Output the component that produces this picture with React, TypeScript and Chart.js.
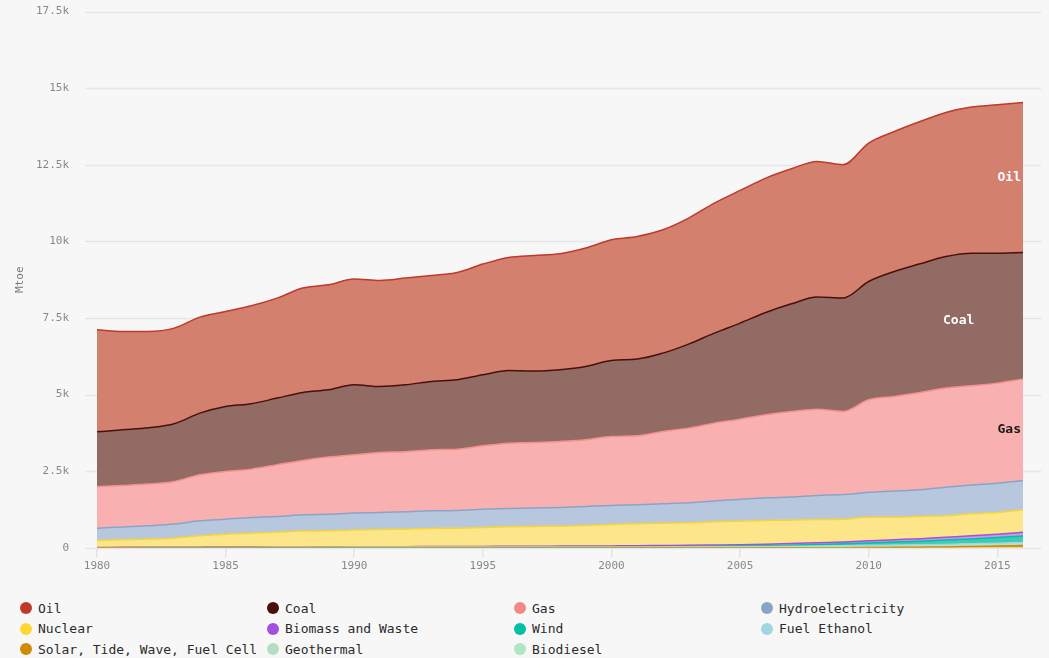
import React, { useEffect, useRef } from 'react';
import { Chart, registerables } from 'chart.js';

Chart.register(...registerables);

const years = [
  1980, 1981, 1982, 1983, 1984, 1985, 1986, 1987, 1988, 1989,
  1990, 1991, 1992, 1993, 1994, 1995, 1996, 1997, 1998, 1999,
  2000, 2001, 2002, 2003, 2004, 2005, 2006, 2007, 2008, 2009,
  2010, 2011, 2012, 2013, 2014, 2015, 2016,
];

const oil = [
  3329, 3209, 3143, 3123, 3135, 3101, 3199, 3264, 3407, 3427,
  3450, 3460, 3483, 3460, 3503, 3613, 3688, 3774, 3786, 3864,
  3939, 4004, 4026, 4114, 4244, 4329, 4386, 4407, 4427, 4351,
  4517, 4569, 4645, 4701, 4768, 4843, 4896,
];
const coal = [
  1784, 1816, 1839, 1882, 2012, 2121, 2133, 2177, 2220, 2197,
  2284, 2154, 2187, 2230, 2264, 2318, 2372, 2329, 2340, 2393,
  2481, 2502, 2558, 2742, 2938, 3135, 3340, 3515, 3657, 3701,
  3862, 4080, 4200, 4296, 4329, 4242, 4134,
];
const gas = [
  1360, 1360, 1360, 1392, 1502, 1556, 1577, 1687, 1773, 1861,
  1904, 1958, 1958, 1991, 2001, 2067, 2132, 2143, 2153, 2176,
  2251, 2252, 2360, 2436, 2539, 2619, 2711, 2789, 2816, 2709,
  3021, 3089, 3175, 3232, 3238, 3265, 3307,
];
const hydro = [
  402, 414, 435, 458, 489, 489, 511, 511, 533, 544,
  555, 555, 566, 577, 577, 598, 599, 599, 610, 620,
  620, 621, 631, 655, 681, 710, 738, 757, 785, 805,
  809, 849, 873, 936, 940, 957, 958,
];
const nuclear = [
  228, 247, 267, 296, 370, 422, 453, 483, 515, 523,
  542, 561, 571, 591, 598, 617, 636, 644, 652, 671,
  700, 717, 731, 734, 758, 768, 774, 764, 758, 744,
  773, 738, 725, 700, 720, 708, 734,
];
const biomass = [
  8, 9, 10, 11, 12, 13, 14, 15, 16, 18,
  20, 21, 22, 23, 25, 27, 28, 30, 32, 33,
  35, 36, 38, 40, 43, 46, 49, 52, 56, 60,
  70, 76, 82, 90, 100, 110, 120,
];
const wind = [
  0, 0, 0, 0, 0, 0.1, 0.1, 0.2, 0.3, 0.5,
  0.9, 1, 1.2, 1.5, 2, 2.5, 3, 3.6, 4.6, 5.6,
  7, 8.5, 12, 14, 19, 24, 30, 39, 50, 62,
  78, 99, 118, 143, 160, 188, 217,
];
const fuelEthanol = [
  1, 2, 3, 4, 5, 6, 6, 6.5, 6.5, 6.5,
  6.5, 7, 7, 7, 7.5, 8, 8, 8.5, 8.5, 8,
  8, 9, 10, 12, 13, 15, 19, 25, 33, 37,
  42, 42, 42, 46, 49, 51, 52,
];
const solar = [
  0, 0, 0, 0, 0, 0, 0, 0, 0, 0,
  0, 0, 0, 0, 0, 0, 0, 0, 0, 0,
  0.3, 0.4, 0.5, 0.7, 0.9, 1, 1.5, 2, 3, 5,
  8, 15, 22, 30, 42, 56, 75,
];
const geothermal = [
  3, 3, 3.5, 4, 4.5, 5, 5.5, 6, 6.5, 7,
  7.5, 8, 8, 8.5, 9, 9, 9.5, 10, 10, 11,
  11.5, 11.5, 12, 12.5, 13, 13, 13.5, 14, 14.5, 15,
  15.5, 16, 16.5, 17, 18, 18.5, 19,
];
const biodiesel = [
  0, 0, 0, 0, 0, 0, 0, 0, 0, 0,
  0, 0, 0, 0, 0, 0, 0, 0, 0, 0,
  0.5, 0.7, 1, 1.4, 1.8, 3, 5, 7, 10, 12,
  14, 15, 16, 18, 21, 21, 23,
];

const yTickLabels = ['0', '2.5k', '5k', '7.5k', '10k', '12.5k', '15k', '17.5k'];
const yAxisTitle = 'Mtoe';

// legend order (row-major, 4 columns)
const seriesInfo = [
  { name: 'Oil', data: oil, line: '#c0392b', fill: '#d4806f', dot: '#c0392b' },
  { name: 'Coal', data: coal, line: '#4a0f0a', fill: '#926b65', dot: '#4a0e0b' },
  { name: 'Gas', data: gas, line: '#f2918c', fill: '#f9b0b0', dot: '#f28b86' },
  { name: 'Hydroelectricity', data: hydro, line: '#8aa4c8', fill: '#b7c8de', dot: '#8aa4c8' },
  { name: 'Nuclear', data: nuclear, line: '#f7d43a', fill: '#fde58a', dot: '#fdd835' },
  { name: 'Biomass and Waste', data: biomass, line: '#a64ee0', fill: '#c79be6', dot: '#a64ee0' },
  { name: 'Wind', data: wind, line: '#00bfa5', fill: '#3fcab5', dot: '#00bfa5' },
  { name: 'Fuel Ethanol', data: fuelEthanol, line: '#a0d6e0', fill: '#bde3ea', dot: '#a0d6e0' },
  { name: 'Solar, Tide, Wave, Fuel Cell', data: solar, line: '#d08c00', fill: '#d99e2a', dot: '#d08c00' },
  { name: 'Geothermal', data: geothermal, line: '#b3dec4', fill: '#c4e6d1', dot: '#b3dec4' },
  { name: 'Biodiesel', data: biodiesel, line: '#b1e6c3', fill: '#c2ecd1', dot: '#b1e6c3' },
];

// bottom-to-top stacking order
const stackOrder = [
  'Solar, Tide, Wave, Fuel Cell', 'Geothermal', 'Biodiesel', 'Fuel Ethanol', 'Wind',
  'Biomass and Waste', 'Nuclear', 'Hydroelectricity', 'Gas', 'Coal', 'Oil',
];

const areaLabels = [
  { name: 'Oil', from: 36, to: 36, align: 'right', color: '#ffffff' },
  { name: 'Coal', from: 33, to: 34, align: 'center', color: '#ffffff' },
  { name: 'Gas', from: 36, to: 36, align: 'right', color: '#1a1a1a' },
];

const FONT = '"DejaVu Sans Mono", "Liberation Mono", monospace';

const gridPlugin = {
  id: 'wideGrid',
  beforeDatasetsDraw(chart: any) {
    const { ctx, chartArea, scales } = chart;
    const y = scales.y;
    ctx.save();
    ctx.strokeStyle = '#e6e6e6';
    ctx.lineWidth = 1.5;
    y.ticks.forEach((t: any) => {
      const py = Math.round(y.getPixelForValue(t.value)) + 0.5;
      ctx.beginPath();
      ctx.moveTo(chartArea.left - 12, py);
      ctx.lineTo(chartArea.right + 18, py);
      ctx.stroke();
    });
    ctx.restore();
  },
};

const labelPlugin = {
  id: 'areaLabels',
  afterDatasetsDraw(chart: any) {
    const { ctx } = chart;
    ctx.save();
    ctx.font = `bold 13px ${FONT}`;
    ctx.textBaseline = 'middle';
    areaLabels.forEach((l) => {
      const di = stackOrder.indexOf(l.name);
      const meta = chart.getDatasetMeta(di);
      const below = chart.getDatasetMeta(di - 1);
      const x = (meta.data[l.from].x + meta.data[l.to].x) / 2;
      const yTop = (meta.data[l.from].y + meta.data[l.to].y) / 2;
      const yBot = (below.data[l.from].y + below.data[l.to].y) / 2;
      ctx.fillStyle = l.color;
      ctx.textAlign = l.align;
      ctx.fillText(l.name, l.align === 'right' ? x - 2 : x, (yTop + yBot) / 2);
    });
    ctx.restore();
  },
};

export default function App() {
  const canvasRef = useRef<HTMLCanvasElement | null>(null);

  useEffect(() => {
    document.body.style.background = '#f7f7f7';
    const datasets = stackOrder.map((name, i) => {
      const s = seriesInfo.find((x) => x.name === name)!;
      return {
        label: s.name,
        data: s.data,
        borderColor: s.line,
        backgroundColor: s.fill,
        borderWidth: 1.5,
        pointRadius: 0,
        fill: i === 0 ? 'origin' : '-1',
        cubicInterpolationMode: 'monotone' as const,
      };
    });
    const chart = new Chart(canvasRef.current!, {
      type: 'line',
      data: { labels: years.map(String), datasets },
      plugins: [gridPlugin, labelPlugin],
      options: {
        animation: false,
        responsive: true,
        maintainAspectRatio: false,
        layout: { padding: { left: 0, right: 18, top: 0, bottom: 0 } },
        plugins: { legend: { display: false }, tooltip: { enabled: false } },
        scales: {
          x: {
            type: 'category',
            offset: false,
            border: { display: false },
            grid: {
              drawOnChartArea: false,
              tickLength: 10,
              lineWidth: 1.5,
              color: (c: any) =>
                c.tick && years[c.index] % 5 === 0 ? '#e3e3e3' : 'rgba(0,0,0,0)',
            },
            ticks: {
              autoSkip: false,
              maxRotation: 0,
              padding: 2,
              color: '#888888',
              font: { family: FONT, size: 11 },
              callback: (_v: any, idx: number) =>
                years[idx] % 5 === 0 ? String(years[idx]) : '',
            },
          },
          y: {
            stacked: true,
            min: 0,
            max: 17500,
            border: { display: false },
            grid: { display: false },
            afterFit: (s: any) => {
              s.width = 89;
            },
            ticks: {
              stepSize: 2500,
              padding: 20,
              color: '#888888',
              font: { family: FONT, size: 11 },
              callback: (v: any) => yTickLabels[Math.round(Number(v) / 2500)],
            },
            title: {
              display: true,
              text: yAxisTitle,
              color: '#777777',
              font: { family: FONT, size: 11 },
              padding: { top: 6, bottom: 0 },
            },
          },
        },
      },
    });
    return () => chart.destroy();
  }, []);

  return (
    <div style={{ fontFamily: FONT }}>
      <div style={{ position: 'absolute', left: 8, top: -15, width: 1033, height: 590 }}>
        <canvas ref={canvasRef} />
      </div>
      <div
        style={{
          position: 'absolute',
          left: 8,
          top: 598,
          display: 'grid',
          gridTemplateColumns: 'repeat(4, 247px)',
          paddingLeft: 12,
        }}
      >
        {seriesInfo.map((s) => (
          <div
            key={s.name}
            style={{
              display: 'flex',
              alignItems: 'center',
              height: 20.5,
              fontSize: 13,
              color: '#2b2b2b',
              whiteSpace: 'nowrap',
            }}
          >
            <span
              style={{
                display: 'inline-block',
                width: 12,
                height: 12,
                borderRadius: '50%',
                background: s.dot,
                marginRight: 6,
                flex: '0 0 auto',
              }}
            />
            {s.name}
          </div>
        ))}
      </div>
    </div>
  );
}
